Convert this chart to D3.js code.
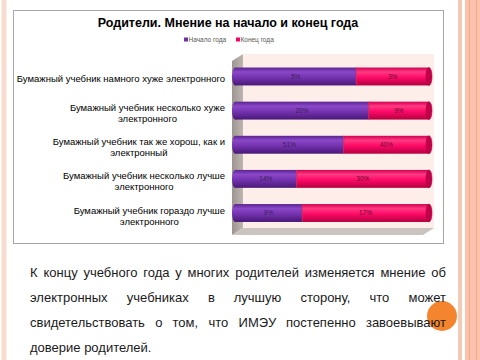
<!DOCTYPE html>
<html>
<head>
<meta charset="utf-8">
<script src="https://cdn.jsdelivr.net/npm/d3@7/dist/d3.min.js"></script>
<style>
  html, body { margin: 0; padding: 0; background: #fff; }
  svg { display: block; font-family: "Liberation Sans", Arial, sans-serif; }
</style>
</head>
<body>
<div id="chart"></div>
<script>
// данные
var categories = [
    ["Бумажный учебник намного хуже электронного"],
    ["Бумажный учебник несколько хуже", "электронного"],
    ["Бумажный учебник так же хорош, как и", "электронный"],
    ["Бумажный учебник несколько лучше", "электронного"],
    ["Бумажный учебник гораздо лучше", "электронного"]
];
var startYear = [5, 20, 51, 14, 9];
var endYear = [3, 9, 40, 30, 17];
var seriesNames = ["Начало года", "Конец года"];
var title = "Родители. Мнение на начало и конец года";
var paragraph = [
    "К концу учебного года у многих родителей изменяется мнение об",
    "электронных учебниках в лучшую сторону, что может",
    "свидетельствовать о том, что ИМЭУ постепенно завоевывают",
    "доверие родителей."
];

var W = 480, H = 360;
var svg = d3.select("#chart").append("svg")
    .attr("width", W)
    .attr("height", H);

var defs = svg.append("defs");

function cylGrad(id, stops) {
    var g = defs.append("linearGradient").attr("id", id)
        .attr("x1", 0).attr("y1", 0).attr("x2", 0).attr("y2", 1);
    stops.forEach(function(s) {
        g.append("stop").attr("offset", s[0]).attr("stop-color", s[1]);
    });
}
cylGrad("gPurple", [["0%", "#5b2390"], ["25%", "#8a48c8"], ["55%", "#7533b0"], ["100%", "#4a1877"]]);
cylGrad("gPink", [["0%", "#d10050"], ["25%", "#ff3a82"], ["55%", "#ff0a68"], ["100%", "#b3003f"]]);
var side = defs.append("linearGradient").attr("id", "gSide")
    .attr("x1", 0).attr("y1", 0).attr("x2", 1).attr("y2", 0);
side.append("stop").attr("offset", "0%").attr("stop-color", "#9d9490");
side.append("stop").attr("offset", "100%").attr("stop-color", "#beb6b2");

// рамка слайда
svg.append("rect").attr("x", 1.5).attr("y", 0).attr("width", 5).attr("height", H).attr("fill", "#f9dccf");
svg.append("rect").attr("x", 458).attr("y", 0).attr("width", 4).attr("height", H).attr("fill", "#f2cbb7");
svg.append("rect").attr("x", 465).attr("y", 0).attr("width", 15).attr("height", H).attr("fill", "#fcc2ab");
[469.5, 476.5].forEach(function(lx) {
    svg.append("line").attr("x1", lx).attr("x2", lx).attr("y1", 0).attr("y2", H)
        .attr("stroke", "#f0a98c").attr("stroke-width", 1);
});

// рамка диаграммы
svg.append("rect")
    .attr("x", 13.5).attr("y", 10.5)
    .attr("width", 430).attr("height", 233)
    .attr("fill", "#fff").attr("stroke", "#a6a6a6");

svg.append("text")
    .attr("x", 228).attr("y", 27)
    .attr("text-anchor", "middle")
    .attr("font-size", "12.5px").attr("font-weight", "bold")
    .attr("fill", "#000")
    .text(title);

// легенда
var colors = ["#7030a0", "#ff0066"];
var legendX = [184, 236];
seriesNames.forEach(function(name, i) {
    svg.append("rect").attr("x", legendX[i]).attr("y", 37.5).attr("width", 4).attr("height", 4)
        .attr("fill", colors[i]);
    svg.append("text").attr("x", legendX[i] + 4.5).attr("y", 42)
        .attr("font-size", "6.5px").attr("fill", "#595959").text(name);
});

// 3D оси
var depthX = 11, depthY = -7;
var x = d3.scaleLinear().domain([0, 1]).range([235, 429]);
var y = d3.scaleBand().domain(d3.range(categories.length))
    .range([59, 230.5]).paddingInner(0.475).paddingOuter(0.25);

var frontL = 232, frontR = 423, frontT = 61, frontB = 235;

svg.append("rect")
    .attr("x", frontL + depthX).attr("y", frontT + depthY)
    .attr("width", frontR - frontL).attr("height", frontB - frontT)
    .attr("fill", "#fdeeea");
svg.append("polygon")
    .attr("points", [[frontL, frontT], [frontL + depthX, frontT + depthY],
        [frontL + depthX, frontB + depthY], [frontL, frontB]].join(" "))
    .attr("fill", "url(#gSide)");
svg.append("polygon")
    .attr("points", [[frontL, frontB], [frontL + depthX, frontB + depthY],
        [frontR + depthX, frontB + depthY], [frontR, frontB]].join(" "))
    .attr("fill", "#cbc3bf");

// столбцы
var rows = categories.map(function(c, i) {
    var total = startYear[i] + endYear[i];
    return { i: i, a: startYear[i], b: endYear[i], sa: startYear[i] / total };
});

var bh = y.bandwidth();
var g = svg.selectAll(".bar").data(rows).enter().append("g").attr("class", "bar");

g.append("ellipse")
    .attr("cx", x(0)).attr("cy", function(d) { return y(d.i) + bh / 2; })
    .attr("rx", 3).attr("ry", bh / 2)
    .attr("fill", "url(#gPurple)");
g.append("rect")
    .attr("x", x(0)).attr("y", function(d) { return y(d.i); })
    .attr("width", function(d) { return x(d.sa) - x(0); }).attr("height", bh)
    .attr("fill", "url(#gPurple)");
g.append("rect")
    .attr("x", function(d) { return x(d.sa); }).attr("y", function(d) { return y(d.i); })
    .attr("width", function(d) { return x(1) - x(d.sa); }).attr("height", bh)
    .attr("fill", "url(#gPink)");
g.append("line")
    .attr("x1", function(d) { return x(d.sa); }).attr("x2", function(d) { return x(d.sa); })
    .attr("y1", function(d) { return y(d.i); }).attr("y2", function(d) { return y(d.i) + bh; })
    .attr("stroke", "#c8204e").attr("stroke-width", 0.8);
g.append("ellipse")
    .attr("cx", x(1)).attr("cy", function(d) { return y(d.i) + bh / 2; })
    .attr("rx", 3).attr("ry", bh / 2)
    .attr("fill", "#c4004a").attr("stroke", "#a3003c").attr("stroke-width", 0.6);

// подписи процентов
g.append("text")
    .attr("x", function(d) { return (x(0) + x(d.sa)) / 2; })
    .attr("y", function(d) { return y(d.i) + bh / 2 + 2.3; })
    .attr("text-anchor", "middle").attr("font-size", "6.5px").attr("fill", "#3b1f55")
    .text(function(d) { return d.a + "%"; });
g.append("text")
    .attr("x", function(d) { return (x(d.sa) + x(1)) / 2; })
    .attr("y", function(d) { return y(d.i) + bh / 2 + 2.3; })
    .attr("text-anchor", "middle").attr("font-size", "6.5px").attr("fill", "#6a0a2e")
    .text(function(d) { return d.b + "%"; });

// подписи категорий
var labelRight = 225, lineH = 11;
categories.forEach(function(lines, i) {
    var cy = y(i) + bh / 2 + 3;
    var t = svg.append("text").attr("font-size", "9.5px").attr("fill", "#000")
        .attr("text-anchor", "middle");
    var spans = lines.map(function(l) { return t.append("tspan").text(l); });
    var maxW = d3.max(spans, function(s) { return s.node().getComputedTextLength(); });
    var cx = labelRight - maxW / 2;
    var y0 = cy - (lines.length - 1) * lineH / 2 + 3;
    spans.forEach(function(s, k) {
        s.attr("x", cx).attr("y", y0 + k * lineH);
    });
});

// кружок
svg.append("circle").attr("cx", 442).attr("cy", 316).attr("r", 15).attr("fill", "#f5842f");

// текст под диаграммой (по ширине)
var textL = 30, textR = 446, base0 = 277, lead = 25;
paragraph.forEach(function(line, i) {
    var t = svg.append("text").attr("font-size", "13px").attr("fill", "#1a1a1a")
        .attr("y", base0 + i * lead);
    var words = line.split(" ");
    var spans = words.map(function(w) { return t.append("tspan").text(w); });
    var widths = spans.map(function(s) { return s.node().getComputedTextLength(); });
    var gap = 3.6;
    if (i < paragraph.length - 1 && words.length > 1) {
        gap = (textR - textL - d3.sum(widths)) / (words.length - 1);
    }
    var cur = textL;
    spans.forEach(function(s, k) {
        s.attr("x", cur);
        cur += widths[k] + gap;
    });
});
</script>
</body>
</html>
